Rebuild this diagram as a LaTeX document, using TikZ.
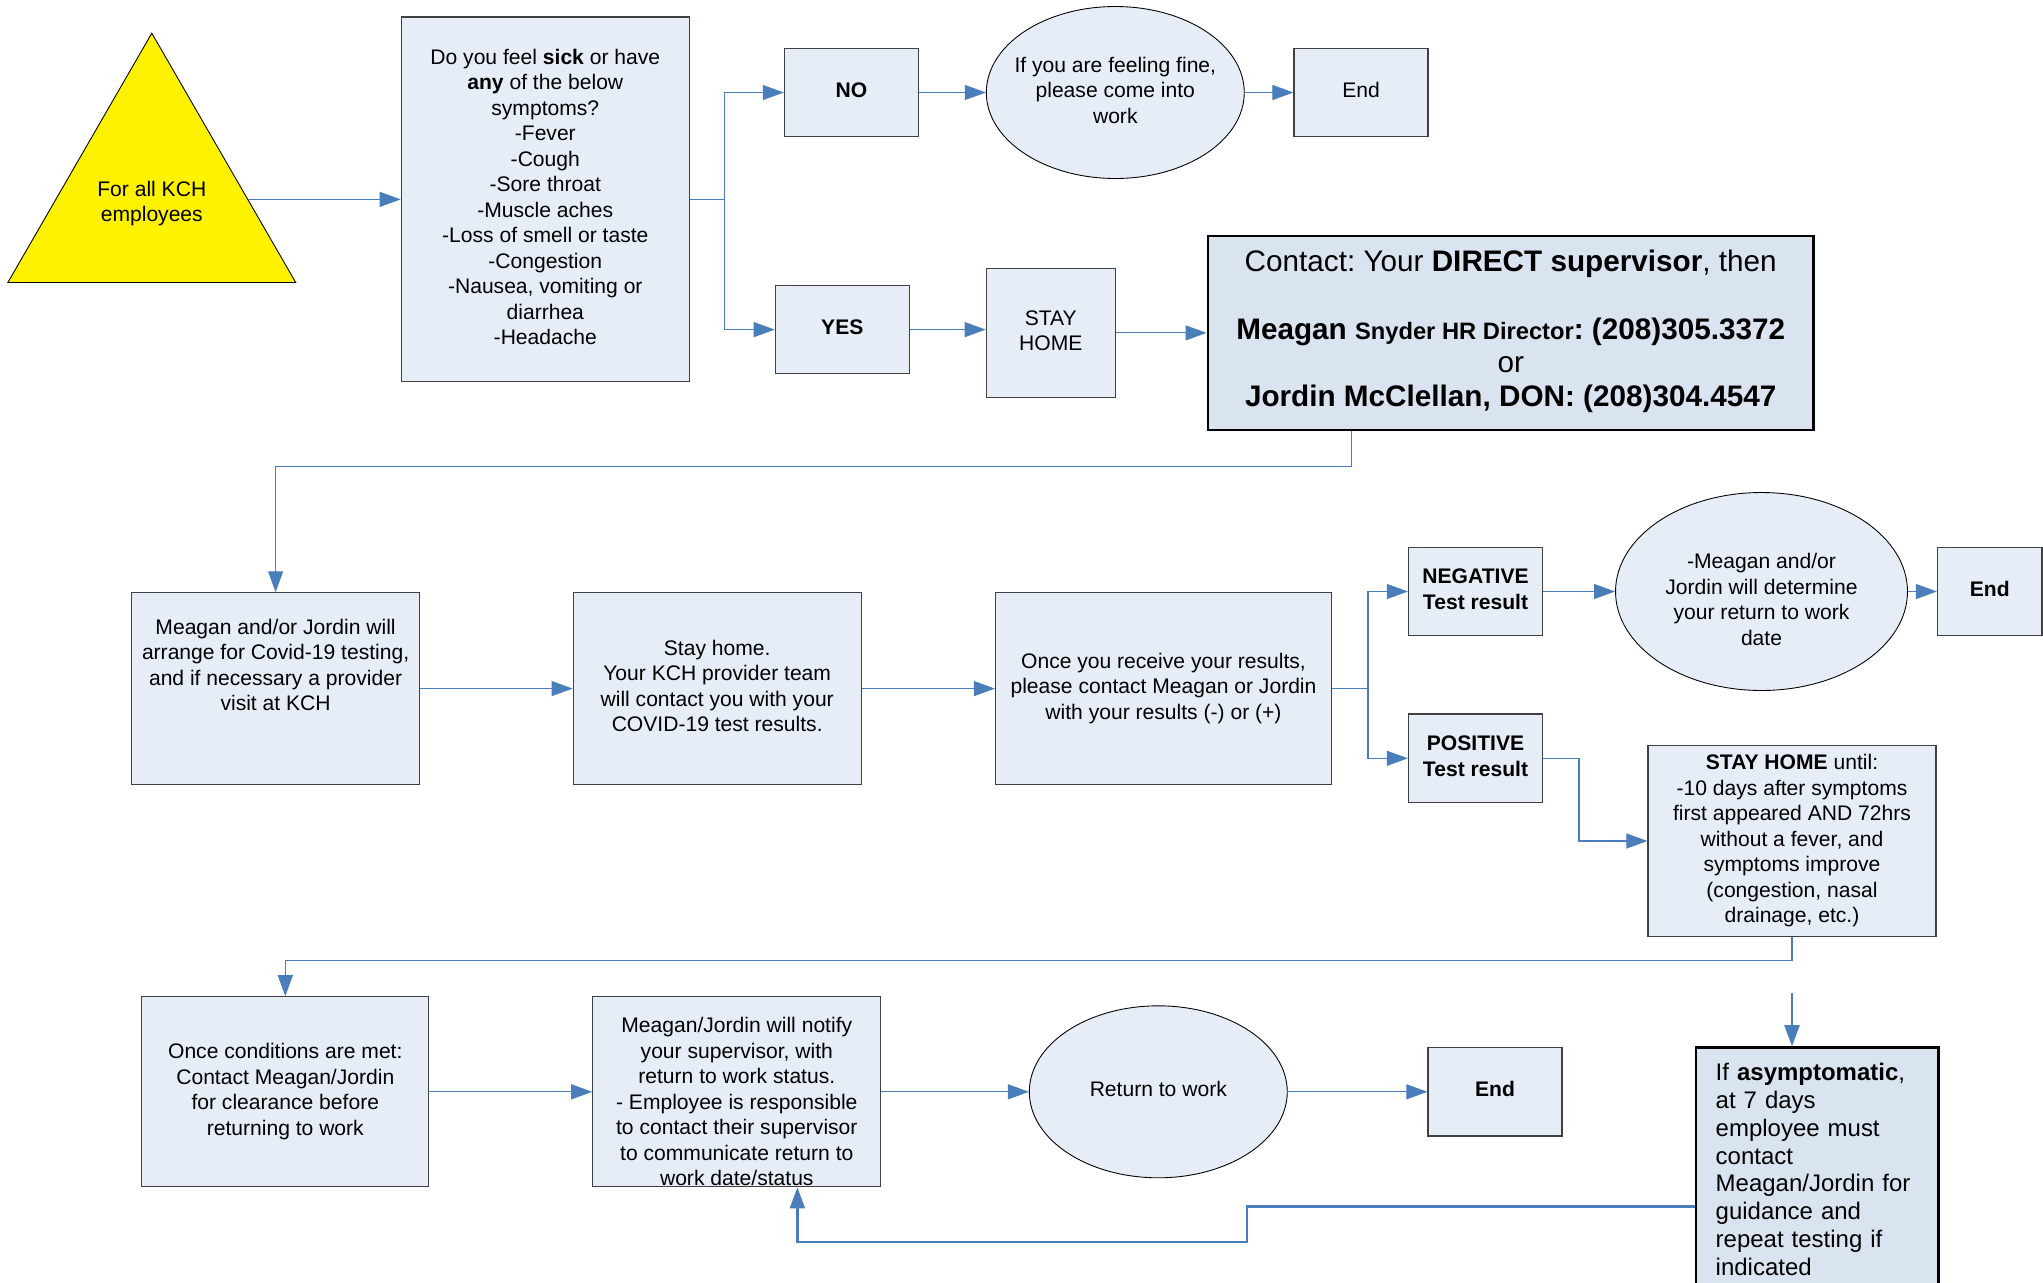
\documentclass[tikz,border=0pt]{standalone}
\usepackage{fontspec}
\setmainfont{Liberation Sans}
\usetikzlibrary{shapes.geometric, arrows.meta}
\definecolor{flowblue}{HTML}{4A7EBB}
\definecolor{boxfill}{HTML}{E7EDF7}
\definecolor{notefill}{HTML}{DAE3F0}
\definecolor{boxline}{HTML}{404040}
\frenchspacing

\newcommand{\boxlines}[2][-3pt]{\raisebox{#1}[0pt][0pt]{\makebox[0pt]{\begin{tabular}{@{}c@{}}#2\end{tabular}}}}
\newcommand{\bodysize}{\fontsize{12}{14.5}\selectfont}
\newcommand{\bigsize}{\fontsize{16.9}{19.2}\selectfont}

\tikzset{
  stepbox/.style={draw=boxline, line width=0.7pt, fill=boxfill, inner sep=0pt, font=\bodysize},
  smallbox/.style={stepbox, minimum width=2.68cm, minimum height=1.77cm},
  notebox/.style={stepbox, draw=black, line width=1.4pt, fill=notefill},
  roundbox/.style={stepbox, ellipse, draw=black, line width=0.5pt},
  flow/.style={draw=flowblue, line width=0.6pt, -{Triangle[length=0.42cm, width=0.3cm]}},
  flowthick/.style={flow, line width=1.3pt},
}

\begin{document}
\begin{tikzpicture}[x=0.02cm, y=-0.02cm]
\useasboundingbox (0,0) rectangle (2043,1282);

% first row
\node[stepbox, regular polygon, regular polygon sides=3, minimum size=6.65cm, fill=yellow, draw=black, line width=0.5pt] (start) at (151.8,199.4) {\boxlines[-5.5pt]{For all KCH\\employees}};
\node[stepbox, minimum width=5.76cm, minimum height=7.3cm] (sympt) at (545.3,199.4)
  {\boxlines{Do you feel \textbf{sick} or have\\ \textbf{any} of the below\\ symptoms?\\ -Fever\\ -Cough\\ -Sore throat\\ -Muscle aches\\ -Loss of smell or taste\\ -Congestion\\ -Nausea, vomiting or\\ diarrhea\\ -Headache}};
\node[smallbox] (no) at (851.4,92.5) {\boxlines{\textbf{NO}}};
\node[roundbox, minimum width=5.16cm, minimum height=3.44cm] (fine) at (1115.3,92.5) {\boxlines{If you are feeling fine,\\ please come into\\ work}};
\node[smallbox] (end1) at (1361,92.5) {\boxlines{End}};
\node[smallbox] (yes) at (842.3,329.6) {\boxlines{\textbf{YES}}};
\node[stepbox, minimum width=2.58cm, minimum height=2.58cm] (stay) at (1050.8,332.9) {\boxlines{STAY\\ HOME}};
\node[notebox, minimum width=12.12cm, minimum height=3.88cm, font=\bigsize] (contact) at (1510.7,332.9)
  {\boxlines[-4pt]{Contact: Your \textbf{DIRECT supervisor}, then\\ \\ \textbf{Meagan {\fontsize{13.5}{19.2}\selectfont Snyder HR Director}: (208)305.3372}\\ or\\ \textbf{Jordin McClellan, DON: (208)304.4547}}};

% second row
\node[stepbox, minimum width=5.76cm, minimum height=3.83cm] (arrange) at (275.6,688.6)
  {\boxlines[9pt]{Meagan and/or Jordin will\\ arrange for Covid-19 testing,\\ and if necessary a provider\\ visit at KCH}};
\node[stepbox, minimum width=5.76cm, minimum height=3.83cm] (wait) at (717.2,688.6)
  {\boxlines{Stay home.\\ Your KCH provider team\\ will contact you with your\\ COVID-19 test results.}};
\node[stepbox, minimum width=6.72cm, minimum height=3.83cm] (results) at (1163.5,688.6)
  {\boxlines{Once you receive your results,\\ please contact Meagan or Jordin\\ with your results (-) or (+)}};
\node[smallbox] (neg) at (1475.5,591.5) {\boxlines{\textbf{NEGATIVE}\\ \textbf{Test result}}};
\node[roundbox, minimum width=5.84cm, minimum height=3.96cm] (decide) at (1761.5,591.5)
  {\boxlines[-9pt]{-Meagan and/or\\ Jordin will determine\\ your return to work\\ date}};
\node[stepbox, minimum width=2.09cm, minimum height=1.77cm] (end2) at (1989.7,591.5) {\boxlines{\textbf{End}}};
\node[smallbox] (pos) at (1475.5,758.3) {\boxlines{\textbf{POSITIVE}\\ \textbf{Test result}}};
\node[stepbox, minimum width=5.76cm, minimum height=3.83cm] (until) at (1792,841)
  {\boxlines{\textbf{STAY HOME} until:\\ -10 days after symptoms\\ first appeared AND 72hrs\\ without a fever, and\\ symptoms improve\\ (congestion, nasal\\ drainage, etc.)}};

% third row
\node[stepbox, minimum width=5.74cm, minimum height=3.8cm] (cleared) at (285.3,1091.8)
  {\boxlines{Once conditions are met:\\ Contact Meagan/Jordin\\ for clearance before\\ returning to work}};
\node[stepbox, minimum width=5.76cm, minimum height=3.8cm] (notify) at (736.8,1091.8)
  {\boxlines[-10pt]{Meagan/Jordin will notify\\ your supervisor, with\\ return to work status.\\ - Employee is responsible\\ to contact their supervisor\\ to communicate return to\\ work date/status}};
\node[roundbox, minimum width=5.16cm, minimum height=3.44cm] (back) at (1158.3,1091.8) {\boxlines{Return to work}};
\node[smallbox] (end3) at (1495,1091.8) {\boxlines{\textbf{End}}};
\node[notebox, anchor=north west, text width=4.07cm, inner xsep=0.39cm, inner ysep=0.32cm, align=left,
  font=\fontsize{13.65}{15.8}\selectfont] (asym) at (1695,1046.2)
  {If \textbf{asymptomatic},\\ at 7 days\\ employee must\\ contact\\ Meagan/Jordin for\\ guidance and\\ repeat testing if\\ indicated};

% turning points
\coordinate (fork1) at (724.4,199.4);
\coordinate (down1) at (1351.1,466.4);
\coordinate (fork2) at (1368,688.6);
\coordinate (posturn) at (1579,758.3);
\coordinate (down2) at (1792,960.2);
\coordinate (asymtop) at (1792,992.8);
\coordinate (asymout) at (1695,1206.5);
\coordinate (jog) at (1246.9,1241.7);
\coordinate (ret) at (797.4,1241.7);

% connectors
\draw[flow] (start) -- (sympt);
\draw[draw=flowblue, line width=0.6pt] (sympt.east) -- (fork1);
\draw[flow] (fork1) |- (no);
\draw[flow] (fork1) |- (yes);
\foreach \from/\to in {no/fine, fine/end1, stay/contact, arrange/wait, wait/results, neg/decide, decide/end2, cleared/notify, notify/back, back/end3}
  \draw[flow] (\from) -- (\to);
\draw[flow] (yes) -- (yes -| stay.west);
\draw[flow] (down1 |- contact.south) -- (down1) -| (arrange);
\draw[draw=flowblue, line width=0.6pt] (results) -- (fork2);
\draw[flow] (fork2) |- (neg);
\draw[flow] (fork2) |- (pos);
\draw[flow] (pos) -- (posturn) |- (until);
\draw[flow] (until) -- (down2) -| (cleared);
\draw[flowthick] (asymtop) -- (asymtop |- asym.north);
\draw[flowthick] (asymout) -| (jog) -- (ret) -- (ret |- notify.south);

\end{tikzpicture}
\end{document}
